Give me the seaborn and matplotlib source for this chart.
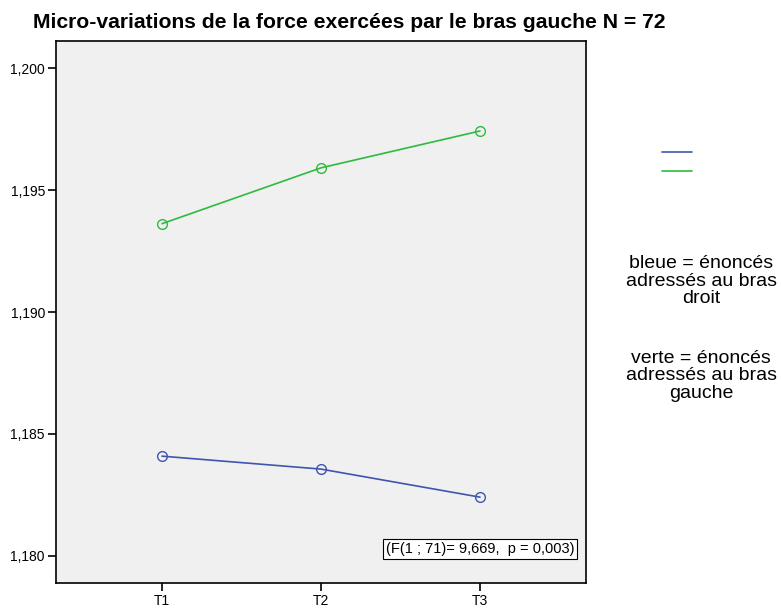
import pandas as pd
import numpy as np
import seaborn as sns
import matplotlib
matplotlib.use("Agg")
from matplotlib import pyplot as plt
from matplotlib.lines import Line2D

# valeurs
temps = ["T1", "T2", "T3"]
bleue = [1.18409, 1.18356, 1.18241]
verte = [1.19362, 1.19591, 1.19742]
yticks = [1.180, 1.185, 1.190, 1.195, 1.200]
ytick_labels = ["1,180", "1,185", "1,190", "1,195", "1,200"]

couleurs = {"bleue": "#3F55AE", "verte": "#2DBB3F"}

df = pd.DataFrame({
    "Temps": temps * 2,
    "Force": bleue + verte,
    "Groupe": ["bleue"] * 3 + ["verte"] * 3,
})

sns.set_style("white")
plt.rcParams["font.family"] = ["Liberation Sans", "DejaVu Sans"]
plt.rcParams["text.color"] = "black"
plt.rcParams["xtick.color"] = "black"
plt.rcParams["ytick.color"] = "black"

fig = plt.figure(figsize=(7.81, 6.1), dpi=100)
ax = fig.add_axes([56 / 781, 27 / 610, 530 / 781, 542 / 610])
ax.set_facecolor("#F0F0F0")

sns.lineplot(data=df, x="Temps", y="Force", hue="Groupe", palette=couleurs,
             marker="o", markersize=7, markerfacecolor="none", linewidth=1.2,
             legend=False, ax=ax)
for ln in ax.lines:
    ln.set_markeredgecolor(ln.get_color())
    ln.set_markeredgewidth(1.0)

ax.set_xlim(-0.667, 2.667)
ax.set_ylim(1.17889, 1.20111)
ax.set_yticks(yticks)
ax.set_yticklabels(ytick_labels)
ax.set_xlabel("")
ax.set_ylabel("")
ax.tick_params(axis="both", direction="out", length=6, width=1.2, color="black",
               labelsize=10, labelcolor="black", pad=2, left=True, bottom=True)
for s in ax.spines.values():
    s.set_color("black")
    s.set_linewidth(1.2)

# cadre de la statistique
ax.text(2.0, 1.18029, "(F(1 ; 71)= 9,669,  p = 0,003)", fontsize=10.5,
        ha="center", va="center",
        bbox=dict(boxstyle="square,pad=0.2", facecolor="white", edgecolor="black", linewidth=0.8))

fig.text(33 / 781, 1 - 22 / 610, "Micro-variations de la force exercées par le bras gauche N = 72",
         fontsize=15.2, fontweight="bold", ha="left", va="center")

# légende sans libellés
handles = [Line2D([0], [0], color=couleurs["bleue"], lw=1.2),
           Line2D([0], [0], color=couleurs["verte"], lw=1.2)]
fig.legend(handles, ["", ""], loc="center", bbox_to_anchor=(677 / 781, 1 - 162 / 610),
           frameon=False, handlelength=2.2, handletextpad=0, labelspacing=0.35)

fig.text(701 / 781, 1 - 281 / 610, "bleue = énoncés\nadressés au bras\ndroit",
         fontsize=14, ha="center", va="center", linespacing=1.05)
fig.text(701 / 781, 1 - 376 / 610, "verte = énoncés\nadressés au bras\ngauche",
         fontsize=14, ha="center", va="center", linespacing=1.05)

fig.savefig("out.png", dpi=100)
